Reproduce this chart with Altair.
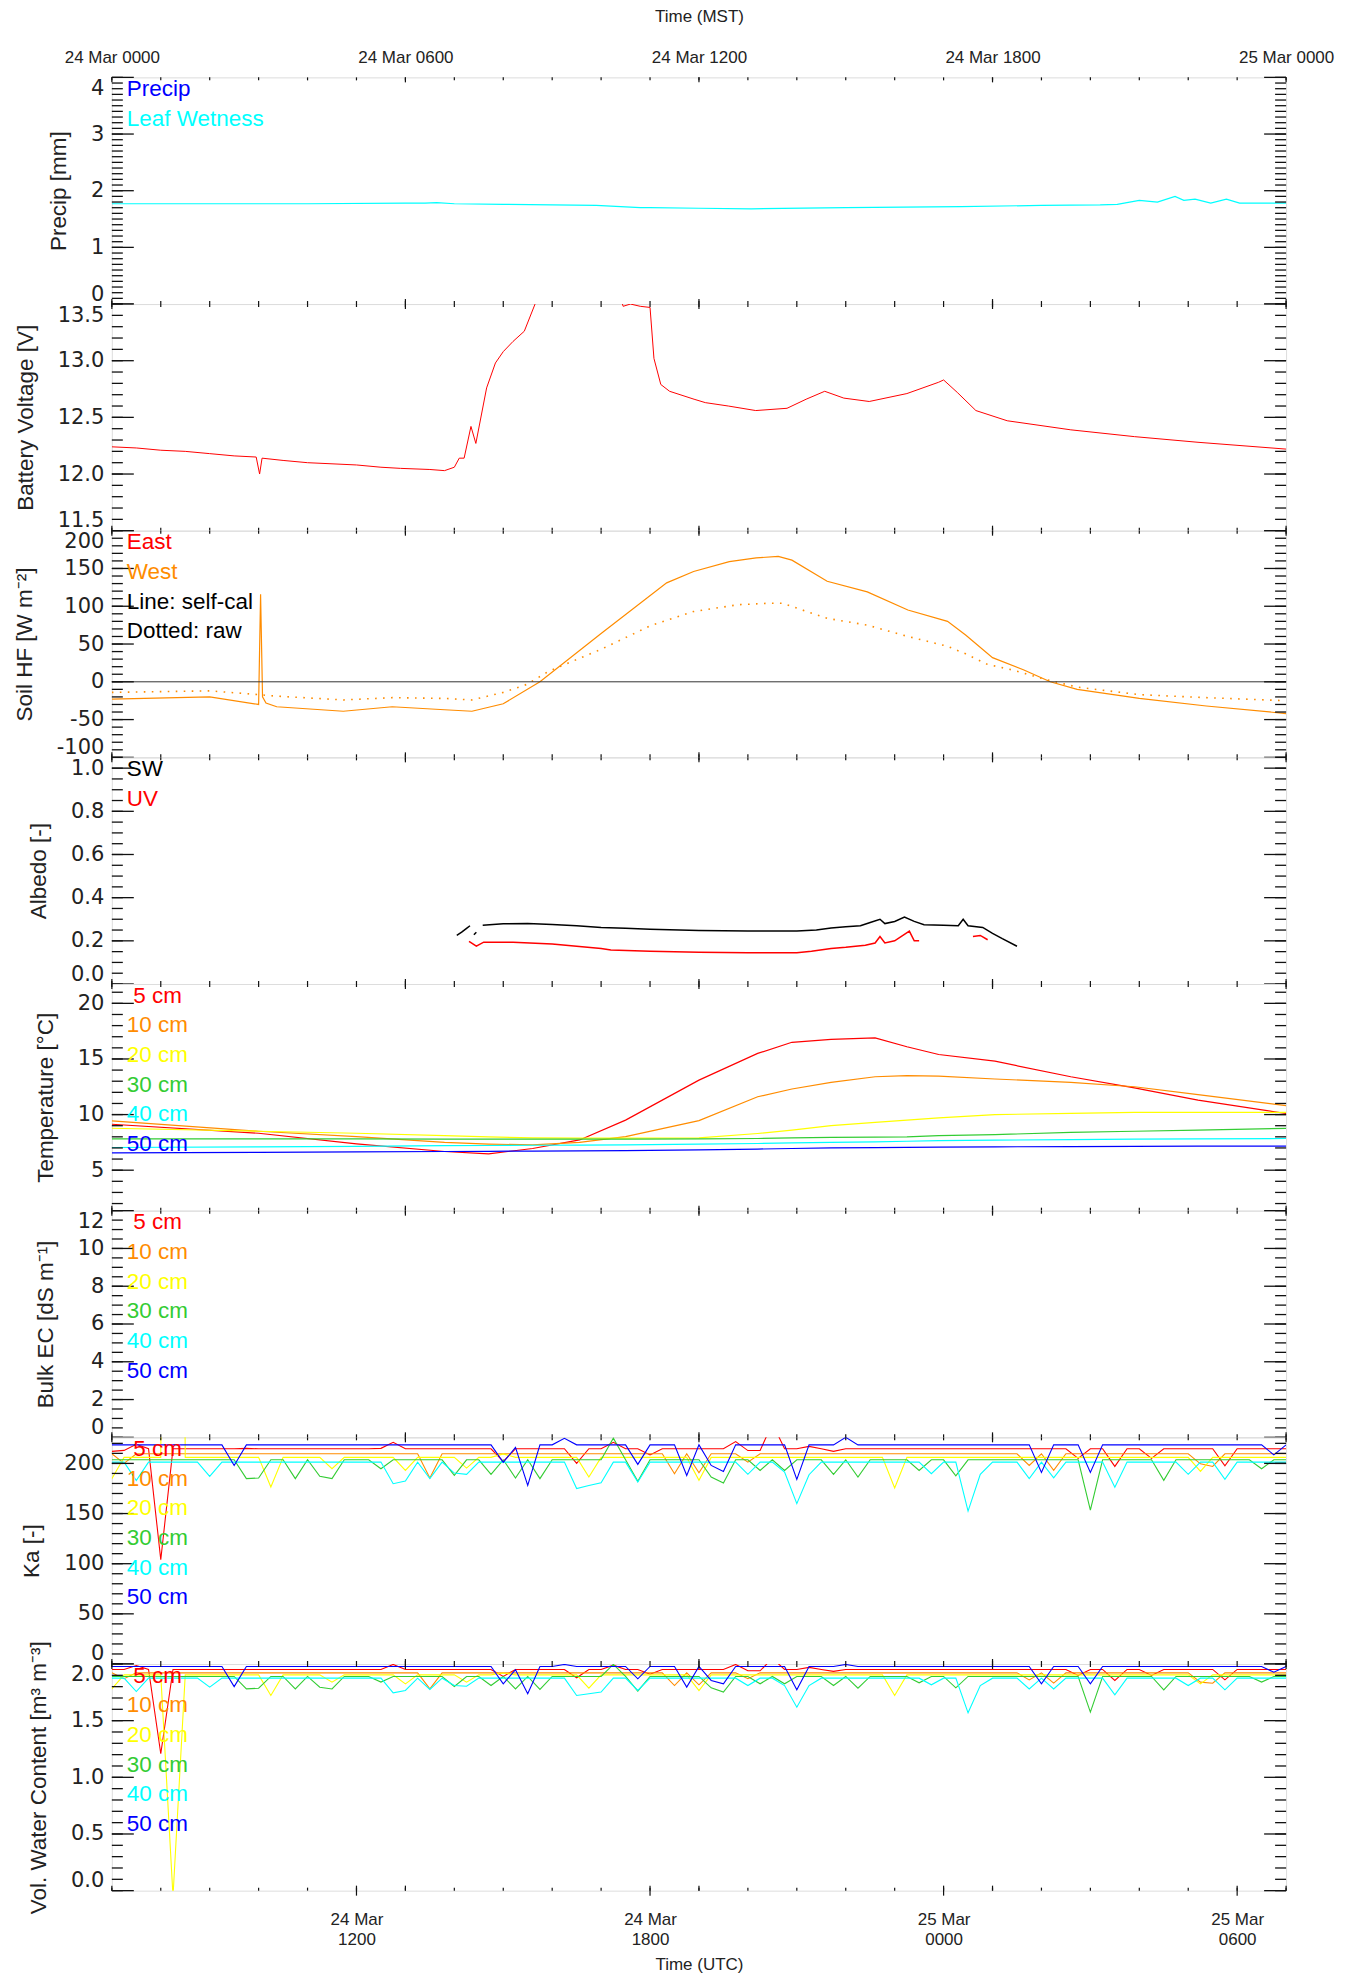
import json
import altair as alt
import pandas as pd

W, H = 1176, 227
FONT = "Liberation Sans"
LFONT = "DejaVu Sans"
TXT = "#222222"
RED, ORANGE, YELLOW, GREEN, CYAN, BLUE, BLACK = "#ff0000", "#ff8c00", "#ffff00", "#33cc33", "#00ffff", "#0000ff", "#000000"

# ---- time axes (hours after 24 Mar 0000 MST) ----
mst_ticks = [0, 6, 12, 18, 24]
mst_labels = ["24 Mar 0000", "24 Mar 0600", "24 Mar 1200", "24 Mar 1800", "25 Mar 0000"]
utc_ticks = [5, 11, 17, 23]
utc_labels = [["24 Mar", "1200"], ["24 Mar", "1800"], ["25 Mar", "0000"], ["25 Mar", "0600"]]
hour_ticks = list(range(25))
q_hours = [k * 0.25 for k in range(97)]

# ---- panel 1: leaf wetness ----
leaf_h = [0, 2, 4, 6, 6.4, 6.64, 7, 8, 9, 9.9, 10.8, 11, 12, 13.07, 15, 17.35, 19, 20.2, 20.55, 21.0, 21.37, 21.73, 21.91, 22.14, 22.46, 22.78, 23.05, 24]
leaf_v = [1.77, 1.77, 1.77, 1.78, 1.78, 1.79, 1.77, 1.76, 1.75, 1.74, 1.70, 1.70, 1.69, 1.68, 1.70, 1.72, 1.74, 1.75, 1.76, 1.83, 1.80, 1.90, 1.83, 1.85, 1.78, 1.85, 1.78, 1.78]

# ---- panel 2: battery ----
batt_h = [0, 0.5, 1, 1.5, 2, 2.5, 2.95, 3.02, 3.07, 3.5, 4, 4.5, 5, 5.5, 5.9, 6.5, 6.8, 7.0, 7.1, 7.2, 7.34, 7.44, 7.66, 7.84, 8.0, 8.2, 8.43, 8.65, 8.8, 10.3, 10.45, 10.6, 10.8, 11.0, 11.08, 11.22, 11.4, 11.9, 12.13, 12.6, 13.16, 13.8, 14.19, 14.57, 14.96, 15.48, 16.25, 16.9, 17.0, 17.28, 17.66, 18.3, 19.6, 20.9, 22.2, 24]
batt_v = [12.24, 12.23, 12.21, 12.20, 12.18, 12.16, 12.15, 12.00, 12.14, 12.12, 12.10, 12.09, 12.08, 12.06, 12.05, 12.04, 12.03, 12.06, 12.14, 12.14, 12.42, 12.27, 12.76, 12.98, 13.08, 13.17, 13.26, 13.50, 13.70, 13.70, 13.48, 13.50, 13.48, 13.47, 13.02, 12.79, 12.73, 12.66, 12.63, 12.60, 12.56, 12.58, 12.66, 12.73, 12.67, 12.64, 12.71, 12.81, 12.83, 12.72, 12.56, 12.47, 12.39, 12.33, 12.28, 12.22]

# ---- panel 3: soil heat flux (West) ----
hf_line_h = [0, 2, 3.0, 3.04, 3.08, 3.15, 3.37, 4.73, 5.73, 6.8, 7.36, 8.0, 8.75, 10.0, 11.34, 11.89, 12.62, 13.17, 13.62, 13.9, 14.62, 15.44, 16.27, 17.08, 17.45, 18.0, 18.63, 19.18, 19.73, 21.0, 22.37, 24]
hf_line_v = [-23, -20, -30, 116, -20, -28, -33, -39, -33, -37, -39, -29, 0, 64, 131, 146, 159, 164, 166, 161, 133, 119, 95, 80, 62, 32, 16, 0, -10, -22, -32, -42]
hf_raw_h = [0, 2, 3, 3.37, 4.73, 5.73, 6.8, 7.36, 8.0, 8.48, 8.93, 10.0, 11.0, 11.89, 12.8, 13.44, 13.7, 14.07, 14.62, 15.44, 16.27, 17.08, 17.45, 17.9, 18.45, 19.09, 19.73, 21.0, 22.37, 24]
hf_raw_v = [-14, -12, -17, -19, -24, -21, -22, -24, -14, -3.5, 14, 43, 74, 93, 102, 104, 104, 96, 84, 75, 60, 47, 37, 23, 15, 3, -7, -17, -21, -25]

# ---- panel 4: albedo ----
sw_seg = ["a", "a", "a", "a", "b", "b"] + ["c"] * 30
sw_h = [7.05, 7.15, 7.25, 7.32, 7.40, 7.45, 7.58, 8.0, 8.5, 9.0, 9.5, 10.0, 10.5, 11.0, 12.0, 13.0, 14.0, 14.4, 14.7, 15.0, 15.3, 15.5, 15.7, 15.8, 16.0, 16.2, 16.4, 16.6, 17.0, 17.3, 17.4, 17.5, 17.8, 18.0, 18.2, 18.5]
sw_v = [0.225, 0.24, 0.258, 0.27, 0.228, 0.24, 0.272, 0.279, 0.28, 0.276, 0.27, 0.262, 0.258, 0.254, 0.248, 0.246, 0.246, 0.25, 0.26, 0.265, 0.27, 0.285, 0.30, 0.28, 0.29, 0.31, 0.29, 0.275, 0.272, 0.27, 0.30, 0.27, 0.262, 0.235, 0.21, 0.175]
uv_seg = ["a"] * 22 + ["b"] * 3
uv_h = [7.30, 7.45, 7.6, 8.2, 9.0, 10.0, 10.2, 11.0, 12.0, 13.0, 14.0, 14.3, 14.7, 15.0, 15.4, 15.6, 15.7, 15.8, 16.0, 16.3, 16.4, 16.5, 17.6, 17.75, 17.9]
uv_v = [0.198, 0.175, 0.194, 0.194, 0.185, 0.165, 0.158, 0.152, 0.147, 0.145, 0.145, 0.152, 0.165, 0.17, 0.18, 0.19, 0.22, 0.19, 0.2, 0.245, 0.2, 0.2, 0.22, 0.225, 0.205]

# ---- panel 5: soil temperature ----
t_h = [0, 3, 5, 6.8, 7.7, 8.6, 9.56, 10.5, 12.0, 13.2, 13.9, 14.7, 15.6, 16.25, 16.9, 18.05, 19.6, 20.9, 22.2, 24]
t5 = [9.13, 8.32, 7.37, 6.68, 6.47, 6.95, 7.72, 9.5, 13.1, 15.5, 16.5, 16.77, 16.9, 16.1, 15.4, 14.8, 13.4, 12.4, 11.3, 10.1]
t10 = [9.43, 8.5, 8.02, 7.5, 7.35, 7.27, 7.5, 8.02, 9.46, 11.6, 12.3, 12.9, 13.4, 13.5, 13.45, 13.2, 12.9, 12.5, 11.8, 10.8]
t20 = [8.77, 8.5, 8.32, 8.1, 8.0, 7.9, 7.88, 7.88, 7.9, 8.3, 8.6, 9.0, 9.3, 9.5, 9.7, 10.0, 10.1, 10.2, 10.2, 10.2]
t30 = [7.81, 7.81, 7.81, 7.8, 7.8, 7.8, 7.8, 7.8, 7.82, 7.85, 7.9, 7.95, 7.97, 8.0, 8.1, 8.2, 8.4, 8.5, 8.6, 8.76]
t40 = [7.04, 7.1, 7.15, 7.2, 7.22, 7.24, 7.26, 7.28, 7.34, 7.4, 7.45, 7.5, 7.55, 7.6, 7.65, 7.7, 7.75, 7.8, 7.82, 7.85]
t50 = [6.56, 6.6, 6.64, 6.68, 6.7, 6.72, 6.74, 6.76, 6.83, 6.9, 6.95, 7.0, 7.02, 7.05, 7.08, 7.1, 7.12, 7.14, 7.16, 7.17]

# ---- panel 7: Ka, 15-minute samples (97 per depth) ----
ka5 = [212, 213, 219, 214.6, 104, 214.6, 214.6, 214.6, 214.6, 214.6,
       214.6, 215, 214.6, 214.6, 214.6, 214.6, 214.6, 214.6, 214.6, 214.6,
       214.6, 214.6, 215, 221, 214.6, 214.6, 214.6, 214.6, 214.6, 214.6,
       214.6, 214.6, 202, 214.6, 214.6, 214.6, 214.6, 214.6, 200, 214.6,
       214.6, 221, 214.6, 214.6, 208.5, 214.6, 214.6, 214.6, 214.6, 214.6,
       214.6, 221.7, 212.8, 212.8, 240, 214.6, 214.6, 217, 214.6, 212,
       214.6, 214.6, 214.6, 214.6, 214.6, 214.6, 214.6, 214.6, 214.6, 214.6,
       214.6, 214.6, 214.6, 214.6, 214.6, 214.6, 214.6, 214.6, 214.6, 205,
       214.6, 214.6, 197, 214.6, 214.6, 205, 214.6, 214.6, 214.6, 214.6,
       214.6, 197.6, 214.6, 214.6, 214.6, 214.6, 214.6]
ka10 = [209.6, 200, 209.6, 209.6, 209.6, 209.6, 209.6, 209.6, 209.6, 209.6,
        209.6, 209.6, 209.6, 209.6, 209.6, 209.6, 209.6, 209.6, 209.6, 209.6,
        209.6, 209.6, 209.6, 209.6, 209.6, 209.6, 185.4, 209.6, 209.6, 209.6,
        209.6, 209.6, 209.6, 209.6, 209.6, 209.6, 209.6, 209.6, 209.6, 209.6,
        209.6, 209.6, 209.6, 209.6, 209.6, 209.6, 189.7, 209.6, 190.7, 209.6,
        209.6, 209.6, 201.3, 209.6, 209.6, 209.6, 209.6, 209.6, 209.6, 209.6,
        209.6, 209.6, 209.6, 209.6, 209.6, 209.6, 209.6, 209.6, 209.6, 209.6,
        209.6, 209.6, 209.6, 209.6, 209.6, 198, 209.6, 193, 209.6, 209.6,
        209.6, 209.6, 209.6, 209.6, 209.6, 209.6, 209.6, 209.6, 209.6, 199.6,
        197, 209.6, 209.6, 209.6, 209.6, 209.6, 209.6]
ka20 = [184.8, 206, 206, 206, 206, 2000, 206, 206, 206, 206,
        206, 206, 206, 176.5, 206, 206, 206, 206, 194.7, 206,
        206, 206, 206, 206, 193, 206, 206, 206, 206, 195.3,
        206, 206, 209.5, 206, 206, 206, 206, 206, 206, 186.4,
        206, 206, 206, 206, 206, 206, 206, 206, 183.1, 206,
        206, 206, 206, 206, 206, 206, 206, 206, 206, 206,
        206, 206, 206, 206, 175.5, 206, 206, 206, 206, 206,
        206, 206, 206, 206, 206, 206, 206, 206, 206, 206,
        206, 206, 206, 206, 206, 206, 206, 206, 206, 192,
        206, 206, 206, 206, 206, 206, 206]
ka30 = [203.6, 203.6, 203.6, 203.6, 203.6, 203.6, 203.6, 203.6, 203.6, 203.6,
        203.6, 184.8, 185.5, 203.6, 203.6, 184.8, 203.6, 187.1, 184.8, 203.6,
        203.6, 203.6, 194.7, 203.6, 203.6, 203.6, 203.6, 203.6, 188.1, 203.6,
        203.6, 189.1, 203.6, 185.5, 203.6, 184.8, 203.6, 203.6, 203.6, 203.6,
        203.6, 225.1, 203.6, 182.1, 203.6, 203.6, 203.6, 203.6, 203.6, 186.4,
        180.5, 203.6, 203.6, 193, 203.6, 193, 203.6, 203.6, 203.6, 189.1,
        203.6, 186.4, 203.6, 203.6, 203.6, 203.6, 193, 203.6, 203.6, 187.5,
        203.6, 203.6, 203.6, 203.6, 203.6, 203.6, 203.6, 203.6, 203.6, 203.6,
        153.4, 203.6, 203.6, 203.6, 203.6, 203.6, 183.1, 203.6, 203.6, 203.6,
        203.6, 203.6, 203.6, 203.6, 194.7, 203.6, 203.6]
ka40 = [201.3, 201.3, 183, 201.3, 201.3, 201.3, 201.3, 201.3, 187.1, 201.3,
        201.3, 201.3, 201.3, 201.3, 201.3, 201.3, 201.3, 201.3, 201.3, 201.3,
        201.3, 201.3, 201.3, 179.8, 182.5, 201.3, 184.8, 201.3, 190.4, 189.1,
        201.3, 201.3, 201.3, 201.3, 201.3, 201.3, 201.3, 201.3, 174.9, 178,
        180.8, 201.3, 201.3, 181.5, 201.3, 201.3, 201.3, 201.3, 201.3, 201.3,
        201.3, 201.3, 189.1, 201.3, 201.3, 191.4, 159.9, 188.7, 201.3, 201.3,
        201.3, 201.3, 201.3, 201.3, 201.3, 201.3, 201.3, 189.7, 201.3, 201.3,
        152.4, 189.1, 201.3, 201.3, 201.3, 184.8, 201.3, 185.5, 201.3, 201.3,
        201.3, 201.3, 176.3, 201.3, 201.3, 201.3, 201.3, 201.3, 189.1, 201.3,
        201.3, 184.1, 201.3, 201.3, 201.3, 201.3, 201.3]
ka50 = [218.5, 218.5, 218.5, 218.5, 218.5, 218.5, 218.5, 218.5, 218.5, 218.5,
        198, 218.5, 218.5, 218.5, 218.5, 218.5, 218.5, 218.5, 218.5, 218.5,
        218.5, 218.5, 218.5, 218.5, 218.5, 218.5, 218.5, 218.5, 218.5, 218.5,
        218.5, 218.5, 201, 216, 178, 218.5, 218.5, 225, 218.5, 218.5,
        218.5, 218.5, 218.5, 199, 218.5, 218.5, 218.5, 188, 218.5, 198,
        192, 218.5, 218.5, 218.5, 218.5, 218.5, 184, 218.5, 218.5, 218.5,
        226, 218.5, 218.5, 218.5, 218.5, 218.5, 218.5, 218.5, 218.5, 218.5,
        218.5, 218.5, 218.5, 218.5, 218.5, 218.5, 191, 218.5, 218.5, 218.5,
        191, 218.5, 218.5, 218.5, 218.5, 218.5, 218.5, 218.5, 218.5, 218.5,
        218.5, 218.5, 218.5, 218.5, 218.5, 208.5, 218.5]

# ---- panel 8: volumetric water content, 15-minute samples ----
vwc5 = [1.952, 1.952, 1.987, 1.952, 1.208, 1.952, 1.952, 1.952, 1.952, 1.952,
        1.952, 1.952, 1.952, 1.952, 1.952, 1.952, 1.952, 1.952, 1.952, 1.952,
        1.952, 1.952, 1.952, 1.996, 1.952, 1.952, 1.952, 1.952, 1.952, 1.952,
        1.952, 1.952, 1.89, 1.952, 1.952, 1.952, 1.952, 1.952, 1.878, 1.952,
        1.952, 1.99, 1.952, 1.952, 1.91, 1.952, 1.952, 1.952, 1.952, 1.952,
        1.952, 1.996, 1.94, 1.94, 2.05, 1.952, 1.952, 1.97, 1.952, 1.935,
        1.952, 1.952, 1.952, 1.952, 1.952, 1.952, 1.952, 1.952, 1.952, 1.952,
        1.952, 1.952, 1.952, 1.952, 1.952, 1.952, 1.952, 1.952, 1.952, 1.899,
        1.952, 1.952, 1.855, 1.952, 1.952, 1.899, 1.952, 1.952, 1.952, 1.952,
        1.952, 1.86, 1.952, 1.952, 1.952, 1.952, 1.952]
vwc10 = [1.922, 1.87, 1.922, 1.922, 1.922, 1.922, 1.922, 1.922, 1.922, 1.922,
         1.922, 1.922, 1.922, 1.922, 1.922, 1.922, 1.922, 1.922, 1.922, 1.922,
         1.922, 1.922, 1.922, 1.922, 1.922, 1.922, 1.78, 1.922, 1.922, 1.922,
         1.922, 1.922, 1.922, 1.922, 1.922, 1.922, 1.922, 1.922, 1.922, 1.922,
         1.922, 1.922, 1.922, 1.922, 1.922, 1.922, 1.81, 1.922, 1.816, 1.922,
         1.922, 1.922, 1.87, 1.922, 1.922, 1.922, 1.922, 1.922, 1.922, 1.922,
         1.922, 1.922, 1.922, 1.922, 1.922, 1.922, 1.922, 1.922, 1.922, 1.922,
         1.922, 1.922, 1.922, 1.922, 1.922, 1.86, 1.922, 1.831, 1.922, 1.922,
         1.922, 1.922, 1.922, 1.922, 1.922, 1.922, 1.922, 1.922, 1.922, 1.84,
         1.83, 1.922, 1.922, 1.922, 1.922, 1.922, 1.922]
vwc20 = [1.78, 1.904, 1.904, 1.904, 1.904, -0.05, 1.904, 1.904, 1.904, 1.904,
         1.904, 1.904, 1.904, 1.722, 1.904, 1.904, 1.904, 1.904, 1.84, 1.904,
         1.904, 1.904, 1.904, 1.904, 1.825, 1.904, 1.904, 1.904, 1.904, 1.84,
         1.904, 1.904, 1.92, 1.904, 1.904, 1.904, 1.904, 1.904, 1.904, 1.787,
         1.904, 1.904, 1.904, 1.904, 1.904, 1.904, 1.904, 1.904, 1.766, 1.904,
         1.904, 1.904, 1.904, 1.904, 1.904, 1.904, 1.904, 1.904, 1.904, 1.904,
         1.904, 1.904, 1.904, 1.904, 1.722, 1.904, 1.904, 1.904, 1.904, 1.904,
         1.904, 1.904, 1.904, 1.904, 1.904, 1.904, 1.904, 1.904, 1.904, 1.904,
         1.904, 1.904, 1.904, 1.904, 1.904, 1.904, 1.904, 1.904, 1.904, 1.825,
         1.904, 1.904, 1.904, 1.904, 1.904, 1.904, 1.904]
vwc30 = [1.89, 1.89, 1.89, 1.89, 1.89, 1.89, 1.89, 1.89, 1.89, 1.89,
         1.89, 1.78, 1.786, 1.89, 1.89, 1.78, 1.89, 1.795, 1.78, 1.89,
         1.89, 1.89, 1.84, 1.89, 1.89, 1.89, 1.89, 1.89, 1.801, 1.89,
         1.89, 1.81, 1.89, 1.78, 1.89, 1.775, 1.89, 1.89, 1.89, 1.89,
         1.89, 1.996, 1.89, 1.76, 1.89, 1.89, 1.89, 1.89, 1.89, 1.79,
         1.752, 1.89, 1.89, 1.825, 1.89, 1.825, 1.89, 1.89, 1.89, 1.81,
         1.89, 1.786, 1.89, 1.89, 1.89, 1.89, 1.834, 1.89, 1.89, 1.79,
         1.89, 1.89, 1.89, 1.89, 1.89, 1.89, 1.89, 1.89, 1.89, 1.89,
         1.575, 1.89, 1.89, 1.89, 1.89, 1.89, 1.772, 1.89, 1.89, 1.89,
         1.89, 1.89, 1.89, 1.89, 1.84, 1.89, 1.89]
vwc40 = [1.875, 1.875, 1.757, 1.875, 1.875, 1.875, 1.875, 1.875, 1.796, 1.875,
         1.875, 1.875, 1.875, 1.875, 1.875, 1.875, 1.875, 1.875, 1.875, 1.875,
         1.875, 1.875, 1.875, 1.745, 1.766, 1.875, 1.775, 1.875, 1.81, 1.804,
         1.875, 1.875, 1.875, 1.875, 1.875, 1.875, 1.875, 1.875, 1.722, 1.737,
         1.752, 1.875, 1.875, 1.766, 1.875, 1.875, 1.875, 1.875, 1.875, 1.875,
         1.875, 1.875, 1.81, 1.875, 1.875, 1.81, 1.619, 1.81, 1.875, 1.875,
         1.875, 1.875, 1.875, 1.875, 1.875, 1.875, 1.875, 1.816, 1.875, 1.875,
         1.569, 1.81, 1.875, 1.875, 1.875, 1.78, 1.875, 1.78, 1.875, 1.875,
         1.875, 1.875, 1.728, 1.875, 1.875, 1.875, 1.875, 1.875, 1.81, 1.875,
         1.875, 1.772, 1.875, 1.875, 1.875, 1.875, 1.875]
vwc50 = [1.978, 1.978, 1.978, 1.978, 1.978, 1.978, 1.978, 1.978, 1.978, 1.978,
         1.80, 1.978, 1.978, 1.978, 1.978, 1.978, 1.978, 1.978, 1.978, 1.978,
         1.978, 1.978, 1.978, 1.978, 1.978, 1.978, 1.978, 1.978, 1.978, 1.978,
         1.978, 1.978, 1.825, 1.95, 1.737, 1.978, 1.978, 1.996, 1.978, 1.978,
         1.978, 1.978, 1.978, 1.869, 1.978, 1.978, 1.978, 1.796, 1.978, 1.855,
         1.825, 1.978, 1.978, 1.978, 1.978, 1.978, 1.772, 1.978, 1.978, 1.978,
         1.996, 1.978, 1.978, 1.978, 1.978, 1.978, 1.978, 1.978, 1.978, 1.978,
         1.978, 1.978, 1.978, 1.978, 1.978, 1.978, 1.825, 1.978, 1.978, 1.978,
         1.825, 1.978, 1.978, 1.978, 1.978, 1.978, 1.978, 1.978, 1.978, 1.978,
         1.978, 1.978, 1.978, 1.978, 1.978, 1.928, 1.978]

depths = ["5", "10", "20", "30", "40", "50"]
depth_colors = [RED, ORANGE, YELLOW, GREEN, CYAN, BLUE]
depth_labels = ["5 cm", "10 cm", "20 cm", "30 cm", "40 cm", "50 cm"]


def long_df(h, series):
    rows = []
    for name, col, vals, seg in series:
        for i, (hh, vv) in enumerate(zip(h, vals)):
            s = name + (seg[i] if seg else "")
            rows.append({"h": hh, "v": vv, "s": s, "c": col})
    return pd.DataFrame(rows)


xs = alt.Scale(domain=[0, 24], nice=False, zero=False)
one = pd.DataFrame({"a": [0]})

top_axis = alt.Axis(orient="top", values=mst_ticks, labelExpr=json.dumps(mst_labels) + "[round(datum.value/6)]",
                    title="Time (MST)", ticks=False, domain=False, grid=False, labelFontSize=17, titleFontSize=17,
                    labelPadding=11, titlePadding=23, labelFont=FONT, titleFont=FONT, titleFontWeight="normal",
                    labelColor=TXT, titleColor=TXT, labelFlush=False, labelOverlap=False)
bottom_axis = alt.Axis(orient="bottom", values=utc_ticks, labelExpr=json.dumps(utc_labels) + "[round((datum.value-5)/6)]",
                       title="Time (UTC)", ticks=False, domain=False, grid=False, labelFontSize=17, titleFontSize=17,
                       labelPadding=21, titlePadding=9, labelLineHeight=20, labelFont=FONT, titleFont=FONT,
                       titleFontWeight="normal", labelColor=TXT, titleColor=TXT, labelFlush=False, labelOverlap=False)

NUM_LABEL = "datum.value < 0 ? '-' + format(-datum.value, FMT) : format(datum.value, FMT)"


def panel(ydom, ymajor, yminor, ytitle, yfmt, lines, legend, xaxis=None, extra=None, utc=False):
    ys = alt.Scale(domain=ydom, nice=False, zero=False)
    yax = alt.Axis(title=ytitle, values=ymajor, labelExpr=NUM_LABEL.replace("FMT", "'" + yfmt + "'"),
                   ticks=False, domain=False, grid=False,
                   labelFontSize=21, titleFontSize=22.5, labelPadding=8, titlePadding=20, labelFlush=True,
                   labelOverlap=False, labelFont=LFONT, titleFont=FONT, titleFontWeight="normal",
                   labelColor=TXT, titleColor=TXT)

    def X(f):
        return alt.X(f + ":Q", scale=xs, axis=xaxis)

    def Y(f):
        return alt.Y(f + ":Q", scale=ys, axis=yax)

    layers = []
    for df, props in lines:
        layers.append(alt.Chart(df).mark_line(clip=True, **props).encode(
            x=X("h"), y=Y("v"), color=alt.Color("c:N", scale=None), detail="s:N"))
    if extra is not None:
        layers.append(alt.Chart(pd.DataFrame({"t": [extra]})).mark_rule(color="#333333", strokeWidth=1).encode(y=Y("t")))
    # y ticks, both sides, inward
    for vals, L in [(ymajor, 22), (yminor, 11)]:
        df = pd.DataFrame({"t": vals})
        layers.append(alt.Chart(df).mark_rule(color="#111111", strokeWidth=1.3).encode(y=Y("t"), x=alt.value(0), x2=alt.value(L)))
        layers.append(alt.Chart(df).mark_rule(color="#111111", strokeWidth=1.3).encode(y=Y("t"), x=alt.value(W - L), x2=alt.value(W)))
    # x ticks top and bottom, inward
    for vals, L in [(mst_ticks, 5), (hour_ticks, 3)]:
        df = pd.DataFrame({"t": vals})
        layers.append(alt.Chart(df).mark_rule(color="#111111", strokeWidth=1.2).encode(x=X("t"), y=alt.value(0), y2=alt.value(L)))
        layers.append(alt.Chart(df).mark_rule(color="#111111", strokeWidth=1.2).encode(x=X("t"), y=alt.value(H - L), y2=alt.value(H)))
    if utc:
        df = pd.DataFrame({"t": utc_ticks})
        layers.append(alt.Chart(df).mark_rule(color="#111111", strokeWidth=1.2).encode(x=X("t"), y=alt.value(H - 5), y2=alt.value(H + 5)))
    for i, (txt, col, dx) in enumerate(legend):
        layers.append(alt.Chart(one).mark_text(align="left", baseline="alphabetic", font=FONT, fontSize=22.5).encode(
            x=alt.value(dx), y=alt.value(18.6 + 29.7 * i), text=alt.value(txt), color=alt.value(col)))
    return alt.layer(*layers).properties(width=W, height=H)


def rng(a, b, step):
    n = int(round((b - a) / step))
    return [round(a + i * step, 6) for i in range(n + 1)]


depth_legend = [(t, c, 21.5 if t == "5 cm" else 15) for t, c in zip(depth_labels, depth_colors)]

p1 = panel([0, 4], [0, 1, 2, 3, 4], rng(0, 4, 0.1), "Precip [mm]", "d",
           [(long_df(leaf_h, [("lw", CYAN, leaf_v, None)]), {"strokeWidth": 1.2})],
           [("Precip", BLUE, 15), ("Leaf Wetness", CYAN, 15)], xaxis=top_axis)
p2 = panel([11.5, 13.5], [11.5, 12.0, 12.5, 13.0, 13.5], rng(11.5, 13.5, 0.1), "Battery Voltage [V]", ".1f",
           [(long_df(batt_h, [("bv", RED, batt_v, None)]), {"strokeWidth": 1})], [])
p3 = panel([-100, 200], [-100, -50, 0, 50, 100, 150, 200], rng(-100, 200, 10), "Soil HF [W m⁻²]", "d",
           [(long_df(hf_line_h, [("wl", ORANGE, hf_line_v, None)]), {"strokeWidth": 1.2}),
            (long_df(hf_raw_h, [("wr", ORANGE, hf_raw_v, None)]), {"strokeWidth": 1.6, "strokeDash": [1.6, 6.4]})],
           [("East", RED, 15), ("West", ORANGE, 15), ("Line: self-cal", BLACK, 15), ("Dotted: raw", BLACK, 15)],
           extra=0)
p4 = panel([0, 1.05], [0.0, 0.2, 0.4, 0.6, 0.8, 1.0], rng(0, 1.05, 0.05), "Albedo [-]", ".1f",
           [(long_df(sw_h, [("sw", BLACK, sw_v, sw_seg)]), {"strokeWidth": 1.5}),
            (long_df(uv_h, [("uv", RED, uv_v, uv_seg)]), {"strokeWidth": 1.5})],
           [("SW", BLACK, 15), ("UV", RED, 15)])
p5 = panel([1.36, 21.74], [5, 10, 15, 20], rng(2, 21, 1), "Temperature [°C]", "d",
           [(long_df(t_h, [(d, c, v, None) for d, c, v in zip(depths, depth_colors, [t5, t10, t20, t30, t40, t50])]), {"strokeWidth": 1.2})],
           depth_legend)
p6 = panel([0, 12], [0, 2, 4, 6, 8, 10, 12], rng(0, 12, 0.5), "Bulk EC [dS m⁻¹]", "d", [], depth_legend)
p7 = panel([0, 226], [0, 50, 100, 150, 200], rng(0, 220, 10), "Ka [-]", "d",
           [(long_df(q_hours, [(d, c, v, None) for d, c, v in zip(depths, depth_colors, [ka5, ka10, ka20, ka30, ka40, ka50])]), {"strokeWidth": 1.1})],
           depth_legend)
p8 = panel([0, 2.0], [0.0, 0.5, 1.0, 1.5, 2.0], rng(0, 2.0, 0.1), "Vol. Water Content [m³ m⁻³]", ".1f",
           [(long_df(q_hours, [(d, c, v, None) for d, c, v in zip(depths, depth_colors, [vwc5, vwc10, vwc20, vwc30, vwc40, vwc50])]), {"strokeWidth": 1.1})],
           depth_legend, xaxis=bottom_axis, utc=True)

chart = alt.vconcat(p1, p2, p3, p4, p5, p6, p7, p8, spacing=0, bounds="flush").properties(
    padding={"left": 4, "top": -3, "right": 5, "bottom": 0}
).configure_view(stroke="black", strokeWidth=1.6).configure(background="white")

chart.save("out.html", embed_options={"renderer": "svg", "actions": False})
